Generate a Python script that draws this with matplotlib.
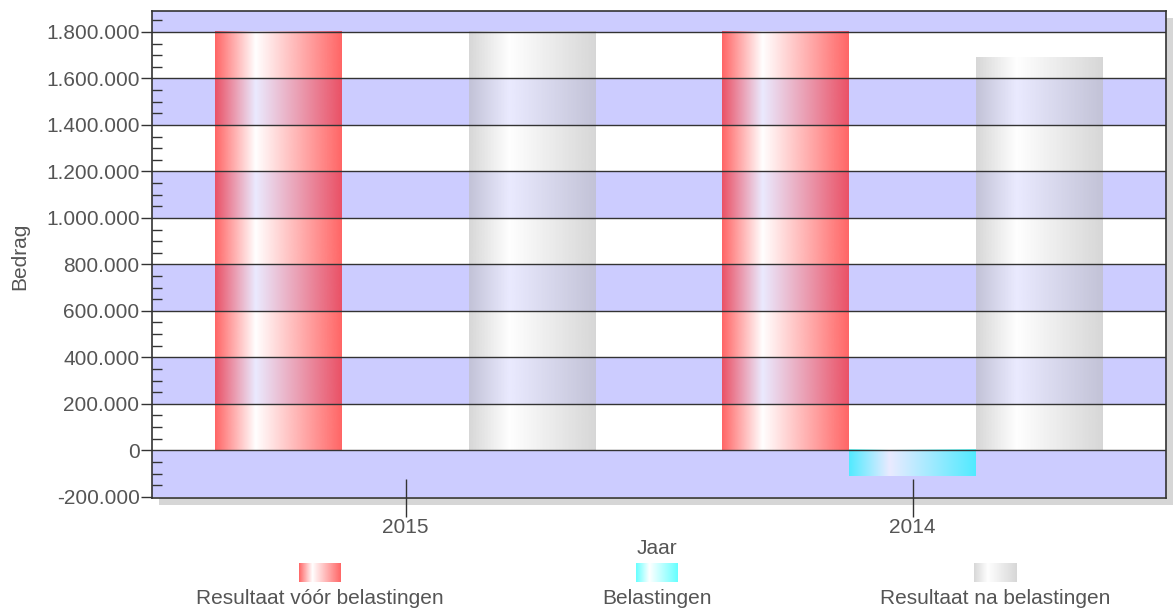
#!/usr/bin/env python3
# -*- coding: utf-8 -*-

import matplotlib
matplotlib.use("Agg")
import matplotlib.pyplot as plt
from matplotlib.patches import Rectangle
from matplotlib.ticker import FuncFormatter, MultipleLocator
import numpy as np

################################################
# Data
################################################
years = ["2015", "2014"]
series_names = ["Resultaat vóór belastingen", "Belastingen", "Resultaat na belastingen"]
resultaat_voor = [1800000, 1800000]
belastingen = [0, -112000]
resultaat_na = [1800000, 1688000]

base_colors = [(1.0, 0.0, 0.0), (0.0, 1.0, 1.0), (0.74, 0.74, 0.74)]
BAR_ALPHA = 0.6
TEXT_CLR = "#555555"
LINE_CLR = "#333333"
FS = 15

plt.rcParams['font.family'] = ['Liberation Sans', 'DejaVu Sans']


def gradient_rgba(color, n=200):
    """Horizontal gradient: color -> white -> color"""
    t = np.linspace(0, 1, n)
    stops = [0.0, 0.32, 1.0]
    w = np.interp(t, stops, [0.0, 1.0, 0.0])
    rgba = np.ones((1, n, 4))
    for i in range(3):
        rgba[0, :, i] = color[i] * (1 - w) + w
    rgba[0, :, 3] = BAR_ALPHA
    return rgba


def dutch(v, pos=None):
    return "{:,.0f}".format(v).replace(",", ".")


################################################
# Figure
################################################
W, H = 1175, 612
fig = plt.figure(figsize=(W / 100, H / 100), dpi=100)
fig.patch.set_facecolor("white")

ax_l, ax_r, ax_t, ax_b = 152, 1166, 11, 498
ax = fig.add_axes([ax_l / W, 1 - ax_b / H, (ax_r - ax_l) / W, (ax_b - ax_t) / H])
ax.set_facecolor("white")

# drop shadow behind the plot area
shadow = Rectangle(((ax_l + 7) / W, 1 - (ax_b + 7) / H), (ax_r - ax_l) / W, (ax_b - ax_t) / H,
                   transform=fig.transFigure, facecolor="#d6d6d6", edgecolor="none", zorder=-5)
fig.patches.append(shadow)

ymin, ymax = -205000, 1890000

# alternating bands
for lo in np.arange(-200000, 2000000, 400000):
    ax.axhspan(lo, lo + 200000, facecolor="#ccccff", edgecolor="none", zorder=0)

# bars with gradient fill
x = np.arange(len(years))
bw = 0.25
values = [resultaat_voor, belastingen, resultaat_na]
for k, vals in enumerate(values):
    bars = ax.bar(x + (k - 1) * bw, vals, bw, color="none", edgecolor="none", zorder=1)
    for b in bars:
        bx, by, bwid, bh = b.get_x(), b.get_y(), b.get_width(), b.get_height()
        if bh == 0:
            continue
        ax.imshow(gradient_rgba(base_colors[k]), extent=[bx, bx + bwid, by, by + bh],
                  aspect="auto", interpolation="bilinear", zorder=1)

ax.set_xlim(-0.5, 1.5)
ax.set_ylim(ymin, ymax)

# grid lines on top of the bars
for yv in np.arange(0, 2000000, 200000):
    ax.axhline(yv, color=LINE_CLR, linewidth=1, zorder=3)

for s in ax.spines.values():
    s.set_color(LINE_CLR)
    s.set_linewidth(1.2)
    s.set_zorder(4)

ax.yaxis.set_major_locator(MultipleLocator(200000))
ax.yaxis.set_minor_locator(MultipleLocator(50000))
ax.yaxis.set_major_formatter(FuncFormatter(dutch))
ax.tick_params(axis="y", which="major", direction="out", length=8, width=1,
               color=LINE_CLR, labelsize=FS, labelcolor=TEXT_CLR, pad=1)
ax.tick_params(axis="y", which="minor", direction="in", length=7, width=1, color=LINE_CLR)

ax.set_xticks(x)
ax.set_xticklabels(years)
ax.tick_params(axis="x", direction="inout", length=27, width=1, color=LINE_CLR,
               labelsize=FS, labelcolor=TEXT_CLR, pad=1)

# axis titles
fig.text(20 / W, 1 - 256 / H, "Bedrag", rotation=90, ha="center", va="center",
         fontsize=FS, color=TEXT_CLR)
fig.text(657 / W, 1 - 548 / H, "Jaar", ha="center", va="center", fontsize=FS, color=TEXT_CLR)

################################################
# Legend (centered swatch above each label)
################################################
leg_centers = [320, 657, 995]
for k, cx in enumerate(leg_centers):
    lax = fig.add_axes([(cx - 21) / W, 1 - 582 / H, 42 / W, 19 / H])
    lax.imshow(gradient_rgba(base_colors[k]), extent=[0, 1, 0, 1], aspect="auto",
               interpolation="bilinear")
    lax.set_axis_off()
    fig.text(cx / W, 1 - 598 / H, series_names[k], ha="center", va="center",
             fontsize=FS, color=TEXT_CLR)

fig.savefig("out.png", dpi=100)
